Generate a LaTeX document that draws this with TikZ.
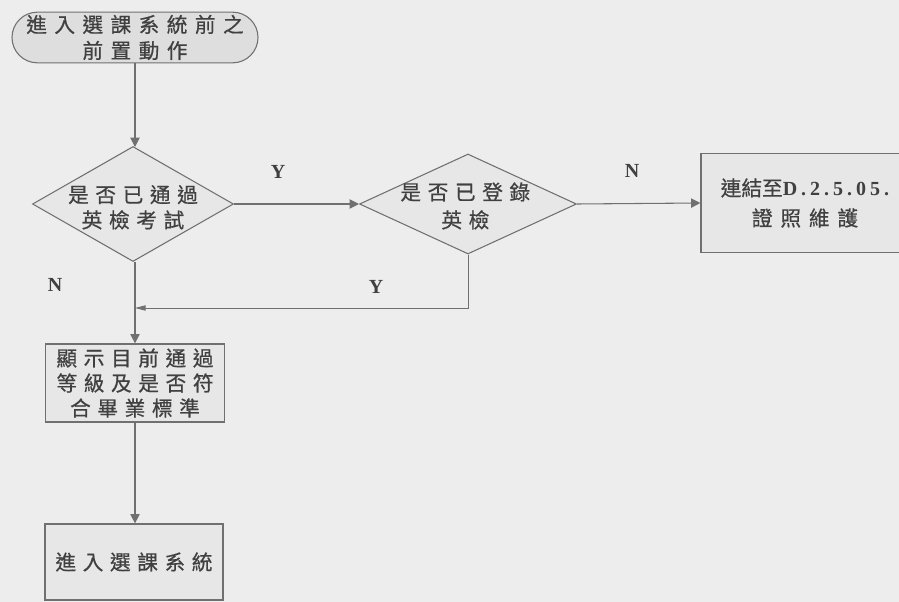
\documentclass[tikz,border=0pt]{standalone}
\usepackage{fontspec}
\setmainfont{Liberation Serif}
\newfontfamily\cjk[LetterSpace=32,FakeBold=0.6]{Noto Sans CJK TC}
\newfontfamily\cjkwide[LetterSpace=36,FakeBold=0.6]{Noto Sans CJK TC}
\newfontfamily\cjktight[LetterSpace=0,FakeBold=0.6]{Noto Sans CJK TC}
\newfontfamily\cjkline[LetterSpace=38,FakeBold=0.6]{Noto Sans CJK TC}
\newfontfamily\serifsp[LetterSpace=20]{Liberation Serif}
\usetikzlibrary{shapes.geometric,arrows.meta}
\definecolor{bg}{HTML}{EDEDED}
\definecolor{shapefill}{HTML}{E7E7E7}
\definecolor{termfill}{HTML}{DEDEDE}
\definecolor{linecol}{HTML}{707070}
\definecolor{txtcol}{HTML}{404040}
\tikzset{
  txt/.style={font=\cjk\fontsize{15.5pt}{20pt}\selectfont, text=txtcol, align=center, inner sep=0pt},
  term/.style={draw=linecol, fill=termfill, line width=0.8pt, rounded corners=19pt, minimum width=184.5pt, minimum height=38pt},
  dec/.style={diamond, draw=linecol, fill=shapefill, line width=0.8pt, inner sep=0pt},
  proc/.style={draw=linecol, fill=shapefill, line width=0.9pt, txt},
  conn/.style={draw=linecol, line width=0.8pt, -{Triangle[length=7pt,width=7pt]}},
  yn/.style={font=\fontsize{15pt}{18pt}\selectfont\bfseries, text=txtcol, inner sep=0pt}
}
\begin{document}
\begin{tikzpicture}[x=0.75pt,y=-0.75pt]
\useasboundingbox (0,0) rectangle (899,602);
\fill[bg] (0,0) rectangle (899,602);
% nodes
\node[term, label={[txt, font=\cjkwide\fontsize{15.5pt}{19.5pt}\selectfont]center:進入選課系統前之\\前置動作}] (start) at (135,37.5) {};
\node[dec, minimum width=150.75pt, minimum height=86.25pt,
      label={[txt, yshift=-2.5pt, font=\cjk\fontsize{15.5pt}{19pt}\selectfont]center:是否已通過\\英檢考試}] (d1) at (133,204) {};
\node[dec, minimum width=162.75pt, minimum height=75pt,
      label={[txt, xshift=-2pt, yshift=-1.5pt, font=\cjk\fontsize{15.5pt}{21pt}\selectfont]center:是否已登錄\\英檢}] (d2) at (468,204) {};
\node[proc, minimum width=156pt, minimum height=74pt, font=\cjkline\fontsize{15.5pt}{22.5pt}\selectfont] (box3) at (805,203)
      {{\cjktight 連結至}{\serifsp\bfseries\fontsize{15pt}{18pt}\selectfont D.2.5.05.}\\證照維護};
\node[proc, minimum width=134pt, minimum height=58.5pt,
      font=\cjk\fontsize{15.5pt}{18.75pt}\selectfont] (box2) at (135,383)
      {顯示目前通過\\等級及是否符\\合畢業標準};
\node[proc, minimum width=133.5pt, minimum height=57pt] (box4) at (134,562) {進入選課系統};
\coordinate (m) at (135,308);
% labels
\node[yn] (ly1) at (278,172) {Y};
\node[yn] (ln1) at (632,171) {N};
\node[yn] (ly2) at (376,287) {Y};
\node[yn] (ln2) at (55,285) {N};
% connectors
\draw[conn] (start.south -| 135,0) -- (135,147);
\draw[conn] (d1.east) -- (d2.west);
\draw[conn] (d2.east) -- (box3.west);
\draw[draw=linecol, line width=0.7pt, -{Triangle[length=8pt,width=4pt]}] (d2.south) |- (m);
\draw[conn] (d1.south -| 135,0) -- (box2.north);
\draw[conn] (box2.south) -- (box2.south |- box4.north);
\end{tikzpicture}
\end{document}
